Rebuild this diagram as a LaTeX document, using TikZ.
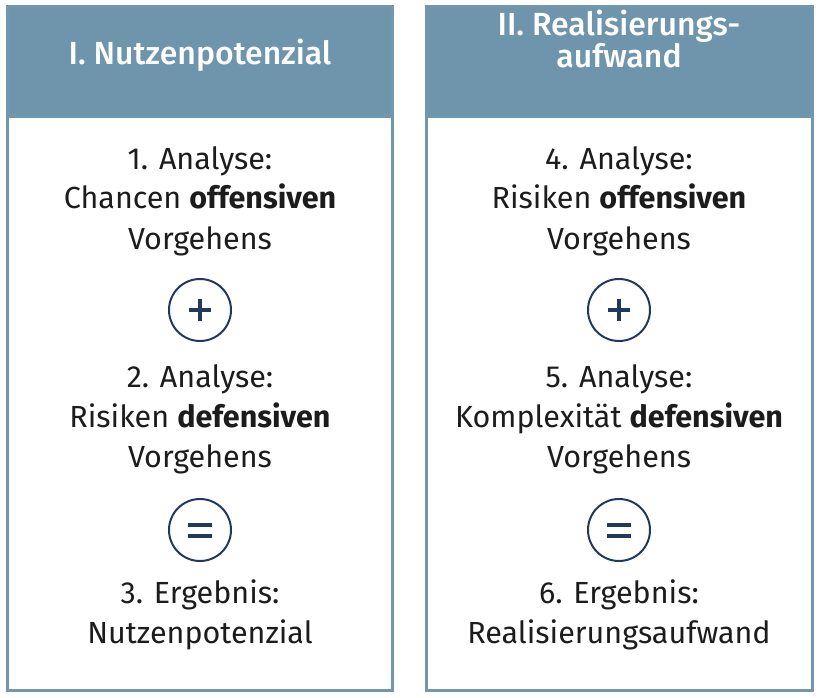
\documentclass[tikz,border=0pt]{standalone}
\usepackage{fontspec}
\setmainfont{Fira Sans}
\newfontfamily\hdrfont{Fira Sans Medium}
\definecolor{hdr}{HTML}{6F95AD}
\definecolor{frame}{HTML}{7097AE}
\definecolor{navy}{HTML}{22395E}
\definecolor{txt}{HTML}{1C1C1C}
\tikzset{
  panel/.style={draw=frame, line width=3pt, fill=white},
  header/.style={fill=hdr, draw=frame, line width=3pt},
  htext/.style={text=white, align=center, font=\hdrfont\fontsize{32}{32}\selectfont, anchor=base},
  btext/.style={text=txt, align=center, font=\fontsize{30.5}{40}\selectfont, anchor=base, inner sep=0pt},
  opcircle/.style={circle, draw=navy, line width=2pt, minimum size=62pt, inner sep=0pt},
  opbar/.style={draw=navy, line width=4pt}
}
\begin{document}
\begin{tikzpicture}[x=1pt,y=-1pt]
\useasboundingbox (0,0) rectangle (820,698);
% panels
\draw[panel] (7,7) rectangle (392,690);
\draw[header] (7,7) rectangle (392,117);
\draw[panel] (426,7) rectangle (812,690);
\draw[header] (426,7) rectangle (812,117);
% headers
\node[htext] (h1) at (200,65) {I. Nutzenpotenzial};
\node[htext] (h2) at (619,68) {II. Realisierungs-\\aufwand};
% left column
\node[btext] (a1) at (200,249) {1. Analyse:\\Chancen \textbf{offensiven}\\Vorgehens};
\node[opcircle] (p1) at (200,310) {};
\draw[opbar] ([xshift=-11pt]p1.center) -- ([xshift=11pt]p1.center);
\draw[opbar] ([yshift=-11pt]p1.center) -- ([yshift=11pt]p1.center);
\node[btext] (a2) at (200,467) {2. Analyse:\\Risiken \textbf{defensiven}\\Vorgehens};
\node[opcircle] (e1) at (200,530) {};
\draw[opbar] ([xshift=-12pt,yshift=-5.5pt]e1.center) -- ([xshift=12pt,yshift=-5.5pt]e1.center);
\draw[opbar] ([xshift=-12pt,yshift=5.5pt]e1.center) -- ([xshift=12pt,yshift=5.5pt]e1.center);
\node[btext] (a3) at (200,643) {3. Ergebnis:\\Nutzenpotenzial};
% right column
\node[btext] (b1) at (619,249) {4. Analyse:\\Risiken \textbf{offensiven}\\Vorgehens};
\node[opcircle] (p2) at (619,310) {};
\draw[opbar] ([xshift=-11pt]p2.center) -- ([xshift=11pt]p2.center);
\draw[opbar] ([yshift=-11pt]p2.center) -- ([yshift=11pt]p2.center);
\node[btext] (b2) at (619,467) {5. Analyse:\\Komplexität \textbf{defensiven}\\Vorgehens};
\node[opcircle] (e2) at (619,530) {};
\draw[opbar] ([xshift=-12pt,yshift=-5.5pt]e2.center) -- ([xshift=12pt,yshift=-5.5pt]e2.center);
\draw[opbar] ([xshift=-12pt,yshift=5.5pt]e2.center) -- ([xshift=12pt,yshift=5.5pt]e2.center);
\node[btext] (b3) at (619,643) {6. Ergebnis:\\Realisierungsaufwand};
\end{tikzpicture}
\end{document}
